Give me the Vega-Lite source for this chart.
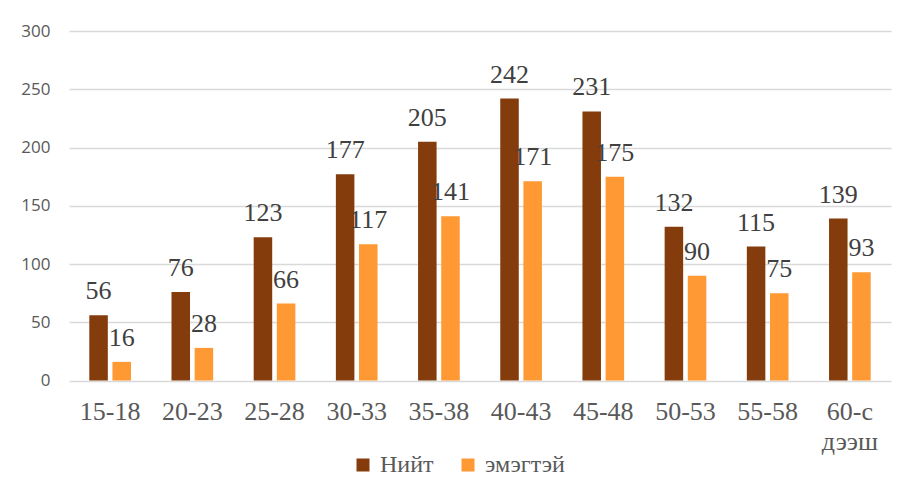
{
  "$schema": "https://vega.github.io/schema/vega-lite/v6.json",
  "autosize": "none",
  "width": 822,
  "height": 349.5,
  "padding": {"left": 69, "top": 31, "right": 15, "bottom": 114.5},
  "background": "white",
  "config": {
    "view": {"stroke": null},
    "font": "Liberation Serif"
  },
  "data": {
    "values": [
      {"group": "15-18", "series": "Нийт", "value": 56},
      {"group": "15-18", "series": "эмэгтэй", "value": 16},
      {"group": "20-23", "series": "Нийт", "value": 76},
      {"group": "20-23", "series": "эмэгтэй", "value": 28},
      {"group": "25-28", "series": "Нийт", "value": 123},
      {"group": "25-28", "series": "эмэгтэй", "value": 66},
      {"group": "30-33", "series": "Нийт", "value": 177},
      {"group": "30-33", "series": "эмэгтэй", "value": 117},
      {"group": "35-38", "series": "Нийт", "value": 205},
      {"group": "35-38", "series": "эмэгтэй", "value": 141},
      {"group": "40-43", "series": "Нийт", "value": 242},
      {"group": "40-43", "series": "эмэгтэй", "value": 171},
      {"group": "45-48", "series": "Нийт", "value": 231},
      {"group": "45-48", "series": "эмэгтэй", "value": 175},
      {"group": "50-53", "series": "Нийт", "value": 132},
      {"group": "50-53", "series": "эмэгтэй", "value": 90},
      {"group": "55-58", "series": "Нийт", "value": 115},
      {"group": "55-58", "series": "эмэгтэй", "value": 75},
      {"group": "60-с дээш", "series": "Нийт", "value": 139},
      {"group": "60-с дээш", "series": "эмэгтэй", "value": 93}
    ]
  },
  "encoding": {
    "x": {
      "field": "group",
      "type": "nominal",
      "sort": null,
      "scale": {"paddingInner": 0.493, "paddingOuter": 0.247},
      "axis": {
        "title": null,
        "domain": false,
        "ticks": false,
        "labelAngle": 0,
        "labelFont": "Liberation Serif",
        "labelFontSize": 26,
        "labelColor": "#595959",
        "labelPadding": 18,
        "labelLineHeight": 30,
        "labelExpr": "split(datum.label, ' ')"
      }
    },
    "xOffset": {
      "field": "series",
      "type": "nominal",
      "scale": {"domain": ["Нийт", "эмэгтэй"], "paddingInner": 0.2, "paddingOuter": 0}
    },
    "y": {
      "field": "value",
      "type": "quantitative",
      "scale": {"domain": [0, 300], "nice": false},
      "axis": {
        "title": null,
        "domain": false,
        "ticks": false,
        "values": [0, 50, 100, 150, 200, 250, 300],
        "labelFont": "Open Sans",
        "labelFontSize": 17,
        "labelColor": "#595959",
        "labelPadding": 19,
        "gridColor": "#D9D9D9",
        "gridWidth": 1.3
      }
    }
  },
  "layer": [
    {
      "mark": {"type": "bar"},
      "encoding": {
        "color": {
          "field": "series",
          "type": "nominal",
          "scale": {"domain": ["Нийт", "эмэгтэй"], "range": ["#843C0C", "#FF9933"]},
          "legend": {
            "title": null,
            "orient": "none",
            "direction": "horizontal",
            "legendX": 282,
            "legendY": 422,
            "padding": 0,
            "symbolType": "square",
            "symbolSize": 169,
            "symbolStrokeWidth": 0,
            "symbolOpacity": 1,
            "labelFont": "Liberation Serif",
            "labelFontSize": 24,
            "labelColor": "#595959",
            "labelOffset": 5,
            "columnPadding": 22
          }
        }
      }
    },
    {
      "mark": {
        "type": "text",
        "baseline": "alphabetic",
        "dy": -16,
        "font": "Liberation Serif",
        "fontSize": 26,
        "fill": "#404040"
      },
      "encoding": {
        "text": {"field": "value", "type": "quantitative"}
      }
    }
  ]
}
